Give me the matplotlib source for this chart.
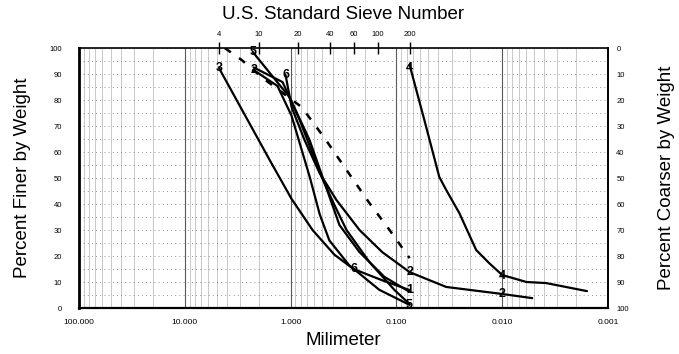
import matplotlib
matplotlib.use("Agg")
import matplotlib.pyplot as plt
from matplotlib.ticker import FixedLocator, LogLocator, NullFormatter

plt.rcParams["font.family"] = ["Liberation Sans", "DejaVu Sans"]

# =========================
# DATA (grain size in mm, percent finer by weight)
# =========================

S1_MM = [2.23, 1.19, 0.82, 0.51, 0.385, 0.296, 0.18, 0.104, 0.075]
S1_PCT = [92.5, 86.9, 72.3, 50.5, 39.6, 30.0, 17.7, 6.9, 1.5]

S2_MM = [2.23, 1.33, 0.98, 0.66, 0.53, 0.43, 0.28, 0.145, 0.075]
S2_PCT = [91.5, 85.4, 74.0, 50.5, 36.0, 26.0, 16.5, 7.0, 1.2]

S3_MM = [4.75, 1.58, 0.98, 0.62, 0.385, 0.254, 0.139, 0.075]
S3_PCT = [92.3, 57.0, 42.0, 30.0, 20.5, 15.0, 10.8, 6.9]

S5_MM = [2.28, 1.02, 0.66, 0.50, 0.345, 0.223, 0.13, 0.075]
S5_PCT = [98.5, 81.0, 64.5, 50.5, 31.9, 21.5, 12.0, 6.2]

S6_MM = [1.115, 0.978, 0.738, 0.533, 0.368, 0.223, 0.136, 0.075, 0.0338, 0.01, 0.0052]
S6_PCT = [89.6, 77.3, 64.6, 52.0, 41.5, 30.0, 21.5, 13.8, 8.1, 5.4, 3.8]

S4_MM = [0.075, 0.0544, 0.0393, 0.0338, 0.0254, 0.0176, 0.0133, 0.01, 0.0059, 0.00385, 0.00158]
S4_PCT = [93.5, 72.3, 50.4, 45.4, 36.5, 22.3, 17.3, 12.7, 10.0, 9.6, 6.5]

DASH_MM = [4.19, 2.90, 1.84, 1.22, 0.787, 0.478, 0.296, 0.18, 0.116, 0.075]
DASH_PCT = [100.0, 95.4, 88.5, 83.1, 77.3, 65.4, 53.1, 40.4, 30.0, 19.2]

# numbered point markers
MARK_TEXT = ["3", "5", "2", "6", "4", "6", "2", "1", "5", "4", "2"]
MARK_MM = [4.75, 2.28, 2.23, 1.115, 0.075, 0.254, 0.075, 0.075, 0.075, 0.01, 0.01]
MARK_PCT = [92.3, 98.5, 91.5, 89.6, 92.3, 15.0, 13.8, 6.9, 1.2, 12.3, 5.4]

SIEVE_LABELS = ["4", "10", "20", "40", "60", "100", "200"]
SIEVE_MM = [4.75, 2.0, 0.85, 0.425, 0.25, 0.15, 0.075]

X_TICKS = [100, 10, 1, 0.1, 0.01, 0.001]
X_TICK_LABELS = ["100.000", "10.000", "1.000", "0.100", "0.010", "0.001"]
Y_TICKS = list(range(0, 101, 10))


# =========================
# FIGURE
# =========================

fig = plt.figure(figsize=(6.79, 3.54), dpi=100)
ax = fig.add_axes([0.1163, 0.1299, 0.7791, 0.7345])

ax.set_xscale("log")
ax.set_xlim(100, 0.001)
ax.set_ylim(0, 100)

# grid
ax.xaxis.set_minor_locator(LogLocator(base=10, subs=range(2, 10)))
ax.xaxis.set_minor_formatter(NullFormatter())
ax.grid(which="minor", axis="x", color="0.7", lw=0.5)
ax.grid(which="major", axis="x", color="0.35", lw=0.8)
ax.yaxis.set_minor_locator(FixedLocator(range(0, 101, 5)))
ax.grid(which="both", axis="y", color="0.45", lw=0.6, linestyle=(0, (1, 4)))

# curves
for xs, ys in [(S1_MM, S1_PCT), (S2_MM, S2_PCT), (S3_MM, S3_PCT),
               (S5_MM, S5_PCT), (S6_MM, S6_PCT), (S4_MM, S4_PCT)]:
    ax.plot(xs, ys, color="black", lw=1.6, solid_capstyle="round")
ax.plot(DASH_MM, DASH_PCT, color="black", lw=1.8, linestyle=(0, (3, 4)))

for t, xm, yp in zip(MARK_TEXT, MARK_MM, MARK_PCT):
    ax.text(xm, yp, t, ha="center", va="center", fontsize=9,
            fontweight="bold", color="black")

# axes styling
ax.set_xticks(X_TICKS)
ax.set_xticklabels(X_TICK_LABELS, fontsize=6)
ax.set_yticks(Y_TICKS)
ax.set_yticklabels([str(v) for v in Y_TICKS], fontsize=5.5)
ax.tick_params(which="both", length=0)
ax.tick_params(axis="x", pad=8)
ax.tick_params(axis="y", pad=12)
ax.spines["left"].set_linewidth(2.0)
ax.spines["bottom"].set_linewidth(1.6)
ax.spines["right"].set_linewidth(1.4)
ax.spines["top"].set_linewidth(1.2)
ax.set_xlabel("Milimeter", fontsize=13.5, labelpad=4)
ax.set_ylabel("Percent Finer by Weight", fontsize=13.5)
ax.yaxis.set_label_coords(-0.09, 0.5)

# right axis: percent coarser
ax_r = ax.twinx()
ax_r.set_ylim(100, 0)
ax_r.set_yticks(Y_TICKS)
ax_r.set_yticklabels([str(v) for v in Y_TICKS], fontsize=5.5)
ax_r.tick_params(length=0, pad=6)
ax_r.set_ylabel("Percent Coarser by Weight", fontsize=13.5, rotation=90)
ax_r.yaxis.set_label_coords(1.095, 0.5)
for s in ax_r.spines.values():
    s.set_visible(False)

# top axis: sieve numbers
ax_t = ax.twiny()
ax_t.set_xscale("log")
ax_t.set_xlim(100, 0.001)
ax_t.xaxis.set_minor_locator(FixedLocator([]))
ax_t.set_xticks(SIEVE_MM)
ax_t.set_xticklabels(SIEVE_LABELS, fontsize=5.5)
ax_t.tick_params(axis="x", direction="inout", length=9, width=1.0, pad=3)
ax_t.set_xlabel("U.S. Standard Sieve Number", fontsize=13.5, labelpad=8)
for s in ax_t.spines.values():
    s.set_visible(False)

fig.savefig("out.png", dpi=100)
